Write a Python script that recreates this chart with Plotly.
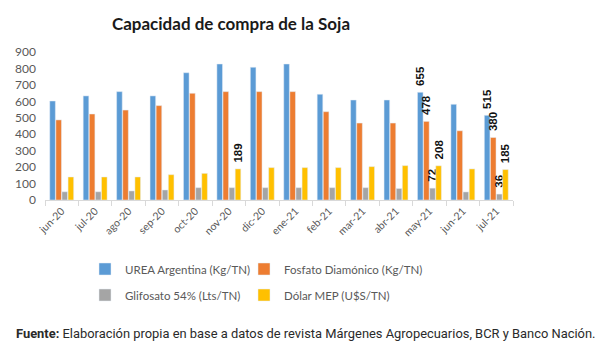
import plotly.graph_objects as go

categories = ["jun-20", "jul-20", "ago-20", "sep-20", "oct-20", "nov-20", "dic-20",
              "ene-21", "feb-21", "mar-21", "abr-21", "may-21", "jun-21", "jul-21"]
urea = [602, 633, 659, 633, 774, 827, 807, 827, 643, 608, 608, 655, 582, 515]
fosfato = [487, 523, 547, 574, 649, 659, 659, 659, 537, 468, 468, 478, 421, 380]
glifosato = [50, 50, 55, 61, 75, 75, 75, 75, 75, 75, 70, 72, 49, 36]
dolar = [140, 140, 140, 154, 162, 189, 197, 197, 197, 203, 209, 208, 189, 185]

labeled_urea = {"may-21", "jul-21"}
labeled_fosfato = {"may-21", "jul-21"}
labeled_glif = {"may-21", "jul-21"}
labeled_dolar = {"nov-20", "may-21", "jul-21"}

series = [
    ("UREA Argentina (Kg/TN)", urea, "#5B9BD5", labeled_urea, "legend"),
    ("Fosfato Diamónico (Kg/TN)", fosfato, "#ED7D31", labeled_fosfato, "legend2"),
    ("Glifosato 54% (Lts/TN)", glifosato, "#A5A5A5", labeled_glif, "legend3"),
    ("Dólar MEP (U$S/TN)", dolar, "#FFC000", labeled_dolar, "legend4"),
]

W, H = 600, 350
ML, MR, MT, MB = 45, 87, 52, 150

fig = go.Figure()
for name, vals, color, lab, leg in series:
    texts = ["\u00a0\u00a0" + str(v) if c in lab else "" for c, v in zip(categories, vals)]
    fig.add_trace(go.Bar(
        name=name, x=categories, y=vals, marker_color=color,
        text=texts, textposition="outside", textangle=-90,
        constraintext="none", cliponaxis=False,
        textfont=dict(family="Liberation Sans", size=11.5, color="#111111", weight="bold"),
        legend=leg,
    ))

def px_to_paper_x(px):
    return (px - ML) / (W - ML - MR)

def px_to_paper_y(py):
    return (H - MB - py) / (H - MT - MB)

gray = "#595959"
leg_common = dict(orientation="h", xref="container", yref="container",
                  xanchor="left", yanchor="middle",
                  font=dict(family="Lato", size=11.5, color=gray),
                  bgcolor="rgba(0,0,0,0)", itemwidth=30)
fig.update_layout(
    width=W, height=H,
    margin=dict(l=ML, r=MR, t=MT, b=MB),
    paper_bgcolor="white", plot_bgcolor="white",
    barmode="group", bargap=0.27, bargroupgap=0.08,
    title=dict(text="<b>Capacidad de compra de la Soja</b>",
               x=231 / W, xanchor="center", y=1 - 24 / H, yanchor="middle",
               xref="container", yref="container",
               font=dict(family="Lato", size=17, color="#1a1a1a")),
    font=dict(family="Lato", color=gray),
    xaxis=dict(showgrid=False, showline=True, linecolor="#D9D9D9", linewidth=1,
               ticks="outside", tickson="boundaries", ticklen=5, tickcolor="#D9D9D9",
               tickangle=-45, tickfont=dict(family="Lato", size=10.5, color=gray)),
    yaxis=dict(range=[0, 900], dtick=100, showgrid=False, zeroline=False,
               showline=False, ticklabelstandoff=8,
               tickfont=dict(family="Lato", size=12, color=gray)),
    legend=dict(leg_common, x=85 / W, y=1 - 269 / H),
    legend2=dict(leg_common, x=244 / W, y=1 - 269 / H),
    legend3=dict(leg_common, x=85 / W, y=1 - 295 / H),
    legend4=dict(leg_common, x=244 / W, y=1 - 295 / H),
    showlegend=True,
)

fig.add_annotation(
    text="<b>Fuente:</b> Elaboración propia en base a datos de revista Márgenes Agropecuarios, BCR y Banco Nación.",
    xref="paper", yref="paper", x=px_to_paper_x(14), y=px_to_paper_y(333),
    xanchor="left", yanchor="middle", showarrow=False,
    font=dict(family="Roboto", size=12.9, color="#2a2a2a"),
)

fig.write_html("out.html")
